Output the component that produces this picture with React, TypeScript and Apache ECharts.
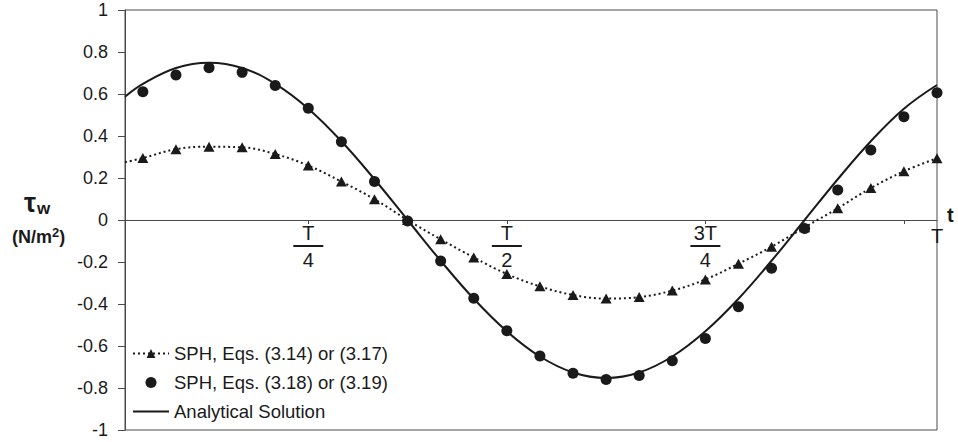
import React, { useEffect, useRef } from "react";
import * as echarts from "echarts";

// Sample index k along one period (T = 24 steps); the axis opens slightly before k = 0.
const axisStart = -0.54;
const sampleIndex = [0, 1, 2, 3, 4, 5, 6, 7, 8, 9, 10, 11, 12, 13, 14, 15, 16, 17, 18, 19, 20, 21, 22, 23, 24];

// SPH, Eqs. (3.14) or (3.17) — triangles on a dotted line
const sphLinearStart = 0.275;
const sphLinear = [0.295, 0.337, 0.349, 0.346, 0.314, 0.259, 0.183, 0.099, 0.0, -0.092, -0.178, -0.257, -0.316,
  -0.357, -0.374, -0.367, -0.336, -0.283, -0.208, -0.127, -0.035, 0.056, 0.152, 0.232, 0.294];

// SPH, Eqs. (3.18) or (3.19) — filled circles
const sphCorrected = [0.611, 0.69, 0.725, 0.703, 0.64, 0.532, 0.373, 0.183, -0.005, -0.195, -0.373, -0.527, -0.648,
  -0.73, -0.759, -0.74, -0.67, -0.564, -0.413, -0.23, -0.04, 0.143, 0.333, 0.492, 0.606];

// Analytical solution — solid curve
const analyticStart = 0.587;
const analytic = [0.648, 0.724, 0.749, 0.724, 0.648, 0.53, 0.375, 0.194, 0.0, -0.194, -0.375, -0.53, -0.65,
  -0.726, -0.752, -0.726, -0.65, -0.53, -0.375, -0.194, 0.0, 0.194, 0.375, 0.53, 0.643];

// Period markers on the time axis
const tickPositions = [5, 11, 17, 23];
const labelPositions = [5, 11, 17, 24];
const labelNumerators = ["T", "T", "3T", "T"];
const labelDenominators = ["4", "2", "4", ""];

const seriesNames = ["SPH, Eqs. (3.14) or (3.17)", "SPH, Eqs. (3.18) or (3.19)", "Analytical Solution"];

const INK = "#1a1a1a";
const AXIS = "#4a4a4a";
const FONT = "'Liberation Sans', Arial, sans-serif";

const GRID_LEFT = 125;
const GRID_RIGHT = 21;
const GRID_TOP = 10;
const GRID_BOTTOM = 12;

export default function App() {
  const ref = useRef<HTMLDivElement>(null);

  useEffect(() => {
    if (!ref.current) return;
    const chart = echarts.init(ref.current, undefined, { renderer: "svg" });

    const linearData: any[] = [
      { value: [axisStart, sphLinearStart], symbol: "none" },
      ...sampleIndex.map((k, i) => [k, sphLinear[i]]),
    ];
    const correctedData = sampleIndex.map((k, i) => [k, sphCorrected[i]]);
    const analyticData = [[axisStart, analyticStart], ...sampleIndex.map((k, i) => [k, analytic[i]])];

    const plotHeight = 442 - GRID_TOP - GRID_BOTTOM;

    chart.setOption({
      animation: false,
      textStyle: { fontFamily: FONT },
      grid: [
        {
          left: GRID_LEFT,
          right: GRID_RIGHT,
          top: GRID_TOP,
          bottom: GRID_BOTTOM,
          show: true,
          borderColor: AXIS,
          borderWidth: 1,
          containLabel: false,
          outerBoundsMode: "none",
        },
        // upper half only: its lower edge sits on the zero line and carries the period labels
        {
          left: GRID_LEFT,
          right: GRID_RIGHT,
          top: GRID_TOP,
          height: plotHeight / 2,
          show: false,
          containLabel: false,
          outerBoundsMode: "none",
        },
      ],
      legend: {
        orient: "vertical",
        left: 132,
        top: 344,
        padding: 0,
        itemWidth: 36,
        itemHeight: 11,
        itemGap: 10,
        data: [
          { name: seriesNames[0] },
          { name: seriesNames[1] },
          { name: seriesNames[2], icon: "path://M0,0h36v2h-36z" },
        ],
        textStyle: { fontSize: 18.5, color: INK, fontFamily: FONT },
      },
      xAxis: [
        {
          type: "value",
          gridIndex: 0,
          min: axisStart,
          max: 24,
          axisLine: { onZero: true, lineStyle: { color: AXIS, width: 1 } },
          splitLine: { show: false },
          axisTick: { show: false },
          axisLabel: { show: false },
        },
        {
          type: "value",
          gridIndex: 1,
          min: axisStart,
          max: 24,
          axisLine: { show: false },
          splitLine: { show: false },
          axisTick: {
            show: true,
            customValues: tickPositions,
            length: 4,
            lineStyle: { color: AXIS },
          },
          axisLabel: {
            customValues: labelPositions,
            showMaxLabel: true,
            margin: 3,
            color: INK,
            formatter: (v: number) => {
              const i = labelPositions.indexOf(Math.round(v));
              if (i < 0) return "";
              if (!labelDenominators[i]) return "{e|" + labelNumerators[i] + "}";
              return "{n|" + labelNumerators[i] + "}\n{bar| }\n{d|" + labelDenominators[i] + "}";
            },
            rich: {
              n: { fontSize: 20, lineHeight: 20, color: INK, fontFamily: FONT },
              bar: { width: 30, height: 2, lineHeight: 6, fontSize: 2, backgroundColor: INK },
              d: { fontSize: 20, lineHeight: 21, color: INK, fontFamily: FONT },
              e: { fontSize: 20, lineHeight: 20, color: INK, fontFamily: FONT, padding: [5, 0, 0, 0] },
            },
          },
        },
      ],
      yAxis: [
        {
          type: "value",
          gridIndex: 0,
          min: -1,
          max: 1,
          interval: 0.2,
          axisLine: { show: true, onZero: false, lineStyle: { color: AXIS, width: 1 } },
          splitLine: { show: false },
          axisTick: { show: true, inside: false, length: 7, lineStyle: { color: AXIS } },
          axisLabel: {
            margin: 17,
            fontSize: 18,
            color: INK,
            fontFamily: FONT,
            formatter: (v: number) => String(Math.round(v * 10) / 10),
          },
        },
        {
          type: "value",
          gridIndex: 1,
          min: 0,
          max: 1,
          show: false,
        },
      ],
      graphic: [
        {
          type: "text",
          left: 24,
          top: 189,
          style: {
            text: "{t|τ}{w|w}",
            rich: {
              t: { fontSize: 27, fontWeight: "bold", fill: INK, fontFamily: FONT },
              w: { fontSize: 17, fontWeight: "bold", fill: INK, fontFamily: FONT, padding: [12, 0, 0, 1] },
            },
          },
        },
        {
          type: "text",
          left: 12,
          top: 226,
          style: {
            text: "{a|(N/m}{s|2}{a|)}",
            rich: {
              a: { fontSize: 18, fontWeight: "bold", fill: INK, fontFamily: FONT },
              s: { fontSize: 13, fontWeight: "bold", fill: INK, fontFamily: FONT, padding: [0, 0, 8, 0] },
            },
          },
        },
        {
          type: "text",
          left: 947,
          top: 205,
          style: { text: "t", fontSize: 20, fontWeight: "bold", fill: INK, fontFamily: FONT },
        },
      ],
      series: [
        {
          name: seriesNames[0],
          type: "line",
          xAxisIndex: 0,
          yAxisIndex: 0,
          data: linearData,
          smooth: 0.4,
          symbol: "triangle",
          symbolSize: [11, 10],
          itemStyle: { color: INK, opacity: 1 },
          lineStyle: { color: INK, width: 2, type: [2, 3] },
          z: 3,
        },
        {
          name: seriesNames[1],
          type: "scatter",
          xAxisIndex: 0,
          yAxisIndex: 0,
          data: correctedData,
          symbol: "circle",
          symbolSize: 11,
          itemStyle: { color: INK, opacity: 1 },
          z: 4,
        },
        {
          name: seriesNames[2],
          type: "line",
          xAxisIndex: 0,
          yAxisIndex: 0,
          data: analyticData,
          smooth: 0.4,
          symbol: "none",
          lineStyle: { color: INK, width: 2 },
          itemStyle: { color: INK },
          z: 2,
        },
      ],
    });

    return () => chart.dispose();
  }, []);

  return (
    <div
      ref={ref}
      style={{ position: "fixed", left: 0, top: 0, width: 958, height: 442, background: "#fff" }}
    />
  );
}
